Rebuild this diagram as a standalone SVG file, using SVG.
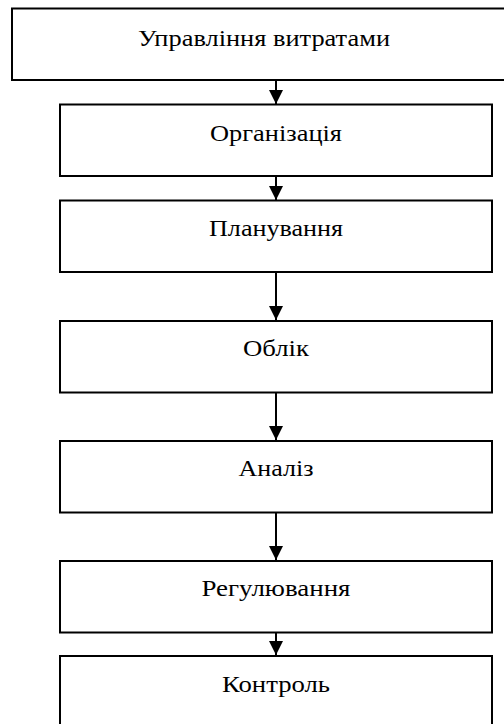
<svg xmlns="http://www.w3.org/2000/svg" width="504" height="724" viewBox="0 0 504 724">
<defs>
<style>
.box{fill:#fff;stroke:#000;stroke-width:2}
.lbl{font-family:"Liberation Serif","Times New Roman",serif;font-size:24px;fill:#000;text-anchor:middle}
.con{stroke:#000;stroke-width:2;fill:none}
</style>
<marker id="ah" markerWidth="14" markerHeight="15" refX="14" refY="7" orient="auto" markerUnits="userSpaceOnUse">
<path d="M0,0 L14,7 L0,14 Z" fill="#000"/>
</marker>
</defs>
<rect width="504" height="724" fill="#fff"/>
<g id="n0"><rect class="box" x="12" y="8.5" width="510" height="71.5"/><text class="lbl" x="264" y="46" textLength="252" lengthAdjust="spacingAndGlyphs">Управління витратами</text></g>
<g id="n1"><rect class="box" x="60" y="104.5" width="432" height="71.5"/><text class="lbl" x="276" y="141" textLength="132" lengthAdjust="spacingAndGlyphs">Організація</text></g>
<g id="n2"><rect class="box" x="60" y="200.5" width="432" height="71.5"/><text class="lbl" x="276" y="236" textLength="134" lengthAdjust="spacingAndGlyphs">Планування</text></g>
<g id="n3"><rect class="box" x="60" y="321" width="432" height="71.5"/><text class="lbl" x="276" y="356" textLength="66" lengthAdjust="spacingAndGlyphs">Облік</text></g>
<g id="n4"><rect class="box" x="60" y="441" width="432" height="71.5"/><text class="lbl" x="276" y="476" textLength="75" lengthAdjust="spacingAndGlyphs">Аналіз</text></g>
<g id="n5"><rect class="box" x="60" y="561" width="432" height="71.5"/><text class="lbl" x="276" y="596" textLength="149" lengthAdjust="spacingAndGlyphs">Регулювання</text></g>
<g id="n6"><rect class="box" x="60" y="656" width="432" height="80"/><text class="lbl" x="276" y="692" textLength="108" lengthAdjust="spacingAndGlyphs">Контроль</text></g>
<g id="connectors">
<line class="con" x1="276" y1="80" x2="276" y2="104" marker-end="url(#ah)"/>
<line class="con" x1="276" y1="176" x2="276" y2="200" marker-end="url(#ah)"/>
<line class="con" x1="276" y1="272" x2="276" y2="320" marker-end="url(#ah)"/>
<line class="con" x1="276" y1="392.5" x2="276" y2="440" marker-end="url(#ah)"/>
<line class="con" x1="276" y1="512.5" x2="276" y2="560" marker-end="url(#ah)"/>
<line class="con" x1="276" y1="632.5" x2="276" y2="655" marker-end="url(#ah)"/>
</g>
</svg>
